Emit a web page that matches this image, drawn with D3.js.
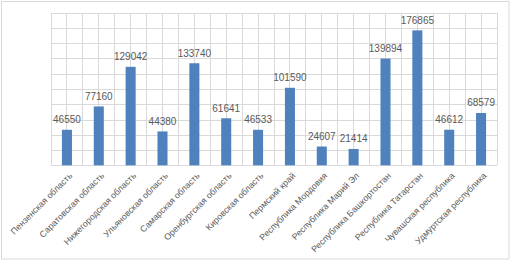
<!DOCTYPE html>
<html>
<head>
<meta charset="utf-8">
<script src="https://cdnjs.cloudflare.com/ajax/libs/d3/7.8.5/d3.min.js"></script>
<style>
  body { margin: 0; background: #fff; }
  #chart svg { display: block; }
  .grid line { stroke: #d9d9d9; stroke-width: 1; }
  .grid path { display: none; }
  .val { font-family: "Liberation Sans", Arial, sans-serif; font-size: 10px; fill: #595959; }
  .cat text { font-family: "Liberation Sans", Arial, sans-serif; font-size: 8.8px; fill: #595959; }
</style>
</head>
<body>
<div id="chart"></div>
<script>
// regions and values
const regions = [
  "Пензенская область", "Саратовская область", "Нижегородская область",
  "Ульяновская область", "Самарская область", "Оренбургская область",
  "Кировская область", "Пермский край", "Республика Мордовия",
  "Республика Марий Эл", "Республика Башкортостан", "Республика Татарстан",
  "Чувашская республика", "Удмуртская республика"
];
const values = [46550, 77160, 129042, 44380, 133740, 61641, 46533, 101590, 24607, 21414, 139894, 176865, 46612, 68579];
const yTicks = [0, 20000, 40000, 60000, 80000, 100000, 120000, 140000, 160000, 180000, 200000];

const svgWidth = 511, svgHeight = 262;
const margin = { top: 12.7, right: 14, left: 51, bottom: 96.7 };
const width = svgWidth - margin.left - margin.right;
const height = svgHeight - margin.top - margin.bottom;

const svg = d3.select("#chart")
  .append("svg")
  .attr("width", svgWidth)
  .attr("height", svgHeight);

// outer chart border
svg.append("rect")
  .attr("x", 1.5).attr("y", 1.5)
  .attr("width", 507.5).attr("height", 257.5)
  .attr("fill", "#fff")
  .attr("stroke", "#d9d9d9");

const g = svg.append("g")
  .attr("transform", `translate(${margin.left}, ${margin.top})`);

const xScale = d3.scaleBand()
  .domain(regions)
  .range([0, width])
  .paddingInner(0.685)
  .paddingOuter(0.3425);

const yScale = d3.scaleLinear()
  .domain([0, 200000])
  .range([height, 0]);

// horizontal grid
g.append("g")
  .attr("class", "grid")
  .call(d3.axisLeft(yScale).tickValues(yTicks).tickSize(-width).tickFormat(""))
  .call(s => s.selectAll("line").attr("shape-rendering", "crispEdges"));

// vertical grid: category boundaries and middles
const step = xScale.step();
const vLines = d3.range(0, regions.length * 2 + 1).map(i => i * step / 2);
g.append("g")
  .attr("class", "grid")
  .selectAll("line")
  .data(vLines)
  .enter().append("line")
  .attr("x1", d => d).attr("x2", d => d)
  .attr("y1", 0).attr("y2", height)
  .attr("shape-rendering", "crispEdges");

// bars
g.selectAll(".bar")
  .data(values)
  .enter().append("rect")
  .attr("class", "bar")
  .attr("x", (d, i) => xScale(regions[i]))
  .attr("y", d => yScale(d))
  .attr("width", xScale.bandwidth())
  .attr("height", d => height - yScale(d))
  .attr("fill", "#4f81bd");

// value labels
g.selectAll(".val")
  .data(values)
  .enter().append("text")
  .attr("class", "val")
  .attr("x", (d, i) => xScale(regions[i]) + xScale.bandwidth() / 2)
  .attr("y", d => yScale(d) - 6.5)
  .attr("text-anchor", "middle")
  .text(d => d);

// category axis, rotated labels
const xAxis = g.append("g")
  .attr("class", "cat")
  .attr("transform", `translate(0, ${height})`)
  .call(d3.axisBottom(xScale).tickSize(0).tickPadding(0));
xAxis.select("path").remove();
xAxis.selectAll("text")
  .attr("text-anchor", "end")
  .attr("dy", 0)
  .attr("y", 0)
  .attr("transform", "translate(6, 11) rotate(-45)");
</script>
</body>
</html>
